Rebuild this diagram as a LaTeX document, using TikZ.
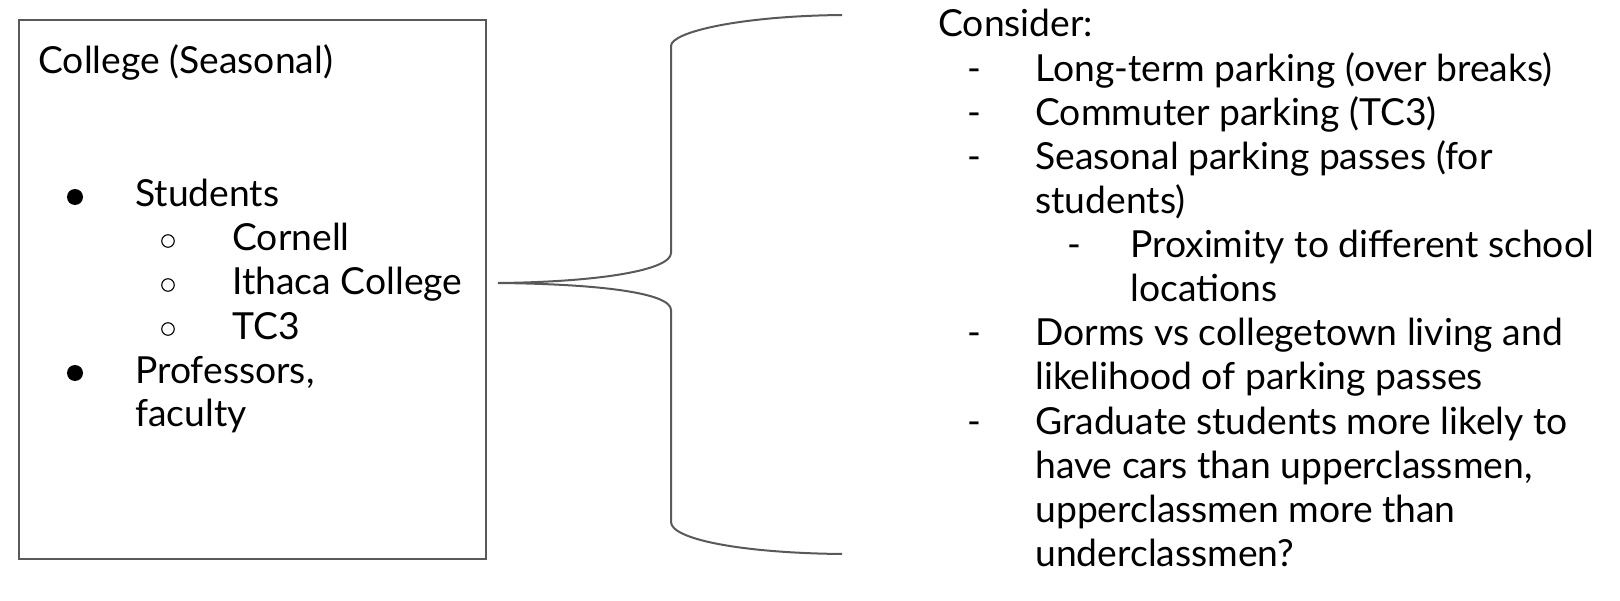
\documentclass[tikz,border=0pt]{standalone}
\usepackage{fontspec}
\setmainfont{Lato}
\definecolor{lineGray}{HTML}{595959}

\begin{document}
\begin{tikzpicture}
\tikzset{TextStyle/.style = {anchor= base west, inner sep= 0pt, font= \fontsize{21.2pt}{25pt}\selectfont},
  DashStyle/.style = {anchor= base, inner sep= 0pt, font= \fontsize{21.2pt}{25pt}\selectfont},
  BulletStyle/.style = {circle, fill= black, minimum size= 3.2mm, inner sep= 0pt},
  RingStyle/.style = {circle, draw= black, line width= 0.22mm, minimum size= 2.5mm, inner sep= 0pt},
  FrameStyle/.style = {draw= lineGray, line width= 0.4mm}
}

    % Page size
    \useasboundingbox (0,0) rectangle (324mm,120mm);

    % Left box
    \node[FrameStyle, anchor= north west, minimum width= 93.4mm, minimum height= 107.8mm] (collegeBox) at (3.6mm,116.2mm) {};

    \node[TextStyle] (college) at (7.6mm,105.2mm) {College (Seasonal)};

    \node[BulletStyle] (bulletStudents) at (15mm,80.6mm) {};
    \node[TextStyle] (students) at (27mm,78.6mm) {Students};
    \node[RingStyle] (ringCornell) at (33.6mm,71.8mm) {};
    \node[TextStyle] (cornell) at (46.4mm,69.8mm) {Cornell};
    \node[RingStyle] (ringIthaca) at (33.6mm,63mm) {};
    \node[TextStyle] (ithaca) at (46.4mm,61mm) {Ithaca College};
    \node[RingStyle] (ringTC3) at (33.6mm,54.2mm) {};
    \node[TextStyle] (tc3) at (46.4mm,52.2mm) {TC3};
    \node[BulletStyle] (bulletProfessors) at (15mm,45.4mm) {};
    \node[TextStyle] (professors) at (27mm,43.4mm) {Professors,};
    \node[TextStyle] (faculty) at (27mm,34.6mm) {faculty};

    % Brace
    \coordinate (braceTop) at (168.4mm,117mm);
    \coordinate (braceTip) at (99.6mm,63.4mm);
    \coordinate (braceBottom) at (168.4mm,9.2mm);
    \draw[FrameStyle] (braceTop) .. controls (148mm,116.8mm) and (134.2mm,113.6mm) .. (134.2mm,110.8mm)
        -- (134.2mm,69.4mm) .. controls (134.2mm,66mm) and (120mm,63.6mm) .. (braceTip)
        .. controls (120mm,63.2mm) and (134.2mm,61.4mm) .. (134.2mm,58mm)
        -- (134.2mm,15.6mm) .. controls (134.2mm,12.2mm) and (148mm,9.4mm) .. (braceBottom);

    % Right list
    \node[TextStyle] (consider) at (187.6mm,112.6mm) {Consider:};

    \node[DashStyle] (dashLong) at (194.8mm,103.6mm) {-};
    \node[TextStyle] (long) at (207mm,103.6mm) {Long-term parking (over breaks)};
    \node[DashStyle] (dashCommuter) at (194.8mm,94.8mm) {-};
    \node[TextStyle] (commuter) at (207mm,94.8mm) {Commuter parking (TC3)};
    \node[DashStyle] (dashSeasonal) at (194.8mm,86mm) {-};
    \node[TextStyle] (seasonal) at (207mm,86mm) {Seasonal parking passes (for};
    \node[TextStyle] (seasonal2) at (207mm,77.2mm) {students)};
    \node[DashStyle] (dashProximity) at (214.8mm,68.4mm) {-};
    \node[TextStyle] (proximity) at (226mm,68.4mm) {Proximity to different school};
    \node[TextStyle] (proximity2) at (226mm,59.6mm) {locations};
    \node[DashStyle] (dashDorms) at (194.8mm,50.8mm) {-};
    \node[TextStyle] (dorms) at (207mm,50.8mm) {Dorms vs collegetown living and};
    \node[TextStyle] (dorms2) at (207mm,42mm) {likelihood of parking passes};
    \node[DashStyle] (dashGraduate) at (194.8mm,33.2mm) {-};
    \node[TextStyle] (graduate) at (207mm,33.2mm) {Graduate students more likely to};
    \node[TextStyle] (graduate2) at (207mm,24.4mm) {have cars than upperclassmen,};
    \node[TextStyle] (graduate3) at (207mm,15.6mm) {upperclassmen more than};
    \node[TextStyle] (graduate4) at (207mm,6.8mm) {underclassmen?};
\end{tikzpicture}
\end{document}
